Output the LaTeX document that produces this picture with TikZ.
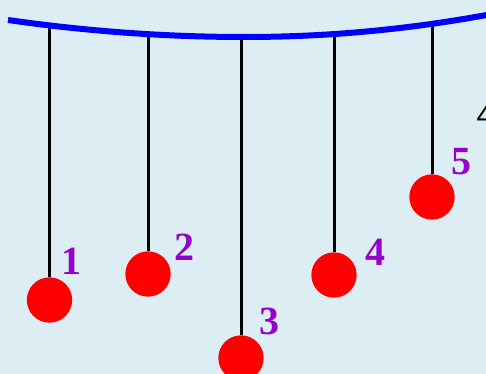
\documentclass[tikz,border=0pt]{standalone}
\usepackage{fontspec}
\newfontfamily\numfont{Liberation Serif}
\newfontfamily\sidefont{Liberation Sans}
\definecolor{skyback}{RGB}{220,237,243}
\definecolor{numpurple}{RGB}{150,0,204}
\tikzset{every picture/.style={line width=0.75pt}}
\tikzset{
  bob/.style={circle, fill=red, inner sep=0pt, minimum size=34pt},
  thread/.style={line width=2.25pt, color=black},
  bobnum/.style={inner sep=0pt, text=numpurple, font=\numfont\bfseries\fontsize{30}{30}\selectfont}
}

\begin{document}
\begin{tikzpicture}[x=0.75pt,y=0.75pt,yscale=-1,xscale=1]
\useasboundingbox (0,0) rectangle (486,374);
\fill [skyback] (0,0) rectangle (486,374);

% Attach points
\coordinate (t1) at (49.5,25);
\coordinate (t2) at (148,33);
\coordinate (t3) at (241,37);
\coordinate (t4) at (334,34);
\coordinate (t5) at (432,26);

% Bobs
\node [bob] (b1) at (49.5,300) {};
\node [bob] (b2) at (148,274) {};
\node [bob] (b3) at (241,358) {};
\node [bob] (b4) at (334,275) {};
\node [bob] (b5) at (432,197) {};

% Threads
\draw [thread] (t1) -- (b1);
\draw [thread] (t2) -- (b2);
\draw [thread] (t3) -- (b3);
\draw [thread] (t4) -- (b4);
\draw [thread] (t5) -- (b5);

% Support
\draw [color=blue, line width=4.5pt] (8,20) .. controls (87,31.3) and (166,37) .. (245,37) .. controls (325,37) and (406,30) .. (492,14);

% Text Node
\node [bobnum] (n1) at (71,261) {1};
\node [bobnum] (n2) at (184,247) {2};
\node [bobnum] (n3) at (269,321) {3};
\node [bobnum] (n4) at (375,252) {4};
\node [bobnum] (n5) at (461,162) {5};
% Text Node
\node [anchor=base west, inner sep=0pt, font=\sidefont\fontsize{22}{22}\selectfont] (side) at (476,126) {4};

\end{tikzpicture}
\end{document}
